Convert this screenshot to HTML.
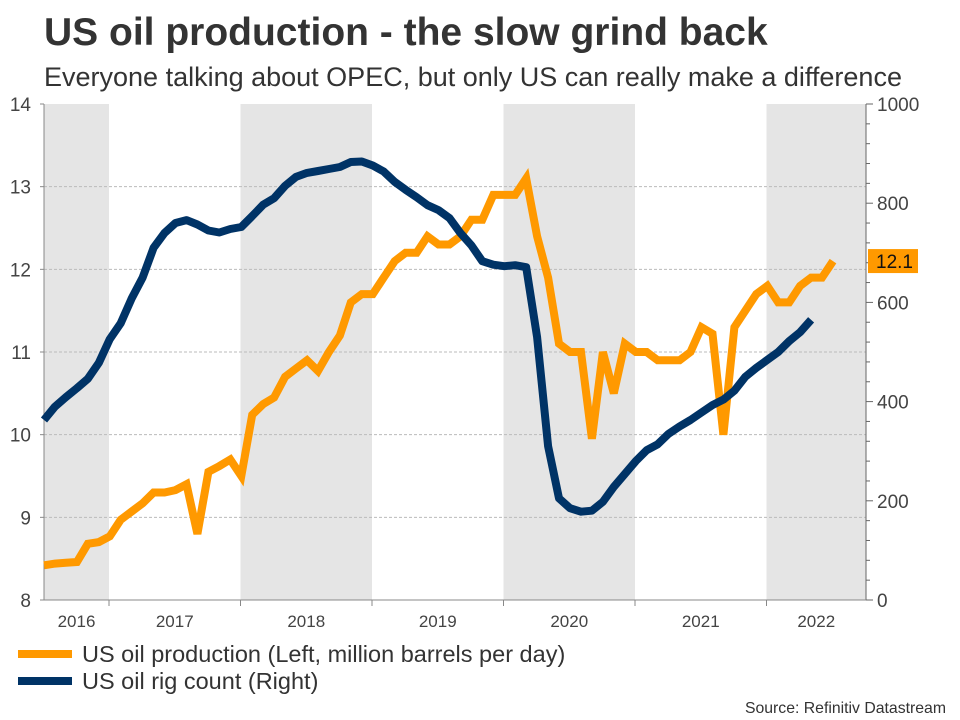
<!DOCTYPE html>
<html><head><meta charset="utf-8"><style>
body{margin:0;background:#fff;font-family:"Liberation Sans",Arial,sans-serif;}
#wrap{position:relative;width:960px;height:720px;overflow:hidden;}
</style></head><body>
<div id="wrap">
<svg id="chart" width="960" height="720" xmlns="http://www.w3.org/2000/svg">
<text x="44" y="45" font-size="39" font-weight="bold" fill="#333" font-family="Liberation Sans, sans-serif">US oil production - the slow grind back</text>
<text x="44" y="86" font-size="27" fill="#333" font-family="Liberation Sans, sans-serif">Everyone talking about OPEC, but only US can really make a difference</text>
<g id="bands"></g><g id="grid"></g><g id="axes"></g><g id="series"></g>
<line x1="18" y1="654" x2="72" y2="654" stroke="#FF9900" stroke-width="8"/>
<text x="82" y="662" font-size="23.5" fill="#333">US oil production (Left, million barrels per day)</text>
<line x1="18" y1="681" x2="72" y2="681" stroke="#003366" stroke-width="8"/>
<text x="82" y="689" font-size="23.5" fill="#333">US oil rig count (Right)</text>
<text x="946" y="713" font-size="15.8" fill="#333" text-anchor="end">Source: Refinitiv Datastream</text>
</svg>
</div>
<script>
const years=["2016","2017","2018","2019","2020","2021","2022"];
const leftTicks=[8,9,10,11,12,13,14];
const rightTicks=[0,200,400,600,800,1000];
const production=[8.42,8.44,8.45,8.46,8.68,8.70,8.77,8.97,9.07,9.17,
9.30,9.30,9.33,9.40,8.80,9.55,9.62,9.70,9.50,10.24,
10.37,10.45,10.70,10.80,10.90,10.77,11.00,11.20,11.60,11.70,
11.70,11.90,12.10,12.20,12.20,12.40,12.30,12.30,12.40,12.60,
12.60,12.90,12.90,12.90,13.10,12.40,11.90,11.10,11.00,11.00,
9.95,11.00,10.50,11.10,11.00,11.00,10.90,10.90,10.90,11.00,
11.30,11.22,10.00,11.30,11.50,11.70,11.80,11.60,11.60,11.80,
11.90,11.90,12.10];
const rigs=[363,390,409,427,446,478,526,558,608,650,
710,740,760,766,757,745,741,748,752,774,
797,810,835,853,861,865,869,873,883,884,
876,864,843,827,812,796,786,770,740,715,
683,676,673,675,671,530,310,205,185,178,
180,198,228,254,280,302,314,335,350,363,
378,393,404,422,450,468,484,500,522,540,565];
const lastLabel="12.1";

const NS="http://www.w3.org/2000/svg";
const X0=44,X1=866,YT=104,YB=600,MONTH=131.5/12,JAN17=109;
function xYear(k){return JAN17+(k-1)*131.5;}
function xMonth(i){return X0+i*MONTH;}
function yL(v){return YB-(v-8)/(14-8)*(YB-YT);}
function yR(v){return YB-v/1000*(YB-YT);}
function mk(tag,attrs,parent){const e=document.createElementNS(NS,tag);for(const k in attrs)e.setAttribute(k,attrs[k]);document.getElementById(parent).appendChild(e);return e;}

years.forEach((y,k)=>{
  if(k%2===0){
    const a=Math.max(X0,xYear(k)),b=Math.min(X1,xYear(k+1));
    const r=mk('rect',{x:a,y:YT,width:b-a,height:YB-YT,fill:'#e5e5e5'},'bands');
    
    
  }
});
leftTicks.forEach(v=>{
  if(v>8&&v<14){
    const l=mk('line',{x1:X0,x2:X1,y1:yL(v),y2:yL(v),stroke:'#bbb','stroke-dasharray':'3,2','stroke-width':1},'grid');
    
    
  }
});
let ax=mk('line',{x1:X0,x2:X0,y1:YT,y2:YB,stroke:'#888'},'axes');


ax=mk('line',{x1:X1,x2:X1,y1:YT,y2:YB,stroke:'#666'},'axes');


ax=mk('line',{x1:X0,x2:X1,y1:YB,y2:YB,stroke:'#888'},'axes');


leftTicks.forEach(v=>{
  const t=mk('text',{x:31,y:yL(v)+7,'font-size':19,fill:'#444','text-anchor':'end'},'axes');
  t.textContent=v;
  
  
  const tk=mk('line',{x1:X0-4,x2:X0,y1:yL(v),y2:yL(v),stroke:'#888'},'axes');
  
  
});
for(let v=0;v<=1000;v+=40){
  const tk=mk('line',{x1:X1,x2:X1+(v%200===0?7:4),y1:yR(v),y2:yR(v),stroke:'#666'},'axes');
  
  
}
rightTicks.forEach(v=>{
  const t=mk('text',{x:877,y:yR(v)+7,'font-size':19,fill:'#444'},'axes');
  t.textContent=v;
  
  
});
years.forEach((y,k)=>{
  if(k>0){
    const tk=mk('line',{x1:xYear(k),x2:xYear(k),y1:YB,y2:YB+6,stroke:'#888'},'axes');
    
    
  }
  const c=(Math.max(X0,xYear(k))+Math.min(X1,xYear(k+1)))/2;
  const t=mk('text',{x:c,y:627,'font-size':17,fill:'#444','text-anchor':'middle'},'axes');
  t.textContent=y;
  
  
});
const pd=production.map((v,i)=>(i?'L':'M')+xMonth(i).toFixed(1)+','+yL(v).toFixed(1)).join('');
const p1=mk('path',{d:pd,fill:'none',stroke:'#FF9900','stroke-width':8,'stroke-linejoin':'miter','stroke-miterlimit':3},'series');


const rd=rigs.map((v,i)=>(i?'L':'M')+xMonth(i).toFixed(1)+','+yR(v).toFixed(1)).join('');
const p2=mk('path',{d:rd,fill:'none',stroke:'#003366','stroke-width':8,'stroke-linejoin':'round'},'series');


const ly=yL(production[production.length-1]);
const lb=mk('rect',{x:868,y:ly-12,width:50,height:24,fill:'#FF9900'},'series');


const lt=mk('text',{x:876,y:ly+7,'font-size':19,fill:'#111'},'series');
lt.textContent=lastLabel;


</script>
</body></html>
